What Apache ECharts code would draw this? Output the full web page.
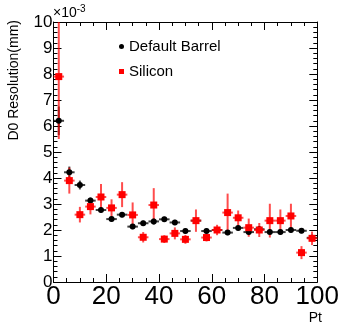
<!DOCTYPE html>
<html>
<head>
<meta charset="utf-8">
<script src="https://cdn.jsdelivr.net/npm/echarts@6/dist/echarts.min.js"></script>
<style>
html,body{margin:0;padding:0;background:#fff;}
#c{width:342px;height:325px;}
</style>
</head>
<body>
<div id="c"></div>
<script>
// Bin centres (Pt)
var ptBins = [2, 6, 10, 14, 18, 22, 26, 30, 34, 38, 42, 46, 50, 54, 58, 62, 66, 70, 74, 78, 82, 86, 90, 94, 98];
var binHalfWidth = 2;
// D0 resolution (x 10^-3 mm)
var barrelValues = [6.2, 4.22, 3.73, 3.13, 2.77, 2.42, 2.59, 2.13, 2.26, 2.33, 2.41, 2.29, 1.96, 2.36, 1.96, 2.0, 1.9, 2.08, 1.92, 2.03, 1.92, 1.92, 2.0, 1.97, 1.7];
var barrelErrors = [0.55, 0.22, 0.17, 0.12, 0.1, 0.1, 0.1, 0.1, 0.1, 0.12, 0.1, 0.1, 0.1, 0.1, 0.1, 0.1, 0.1, 0.1, 0.1, 0.1, 0.1, 0.1, 0.1, 0.1, 0.1];
var siliconValues = [7.9, 3.9, 2.59, 2.9, 3.27, 2.85, 3.36, 2.58, 1.72, 2.96, 1.65, 1.87, 1.64, 2.36, 1.71, 2.0, 2.67, 2.47, 2.09, 2.0, 2.36, 2.36, 2.54, 1.13, 1.68];
var siliconErrors = [2.4, 0.5, 0.3, 0.3, 0.5, 0.33, 0.48, 0.48, 0.2, 0.65, 0.15, 0.23, 0.17, 0.43, 0.15, 0.2, 0.73, 0.28, 0.35, 0.27, 0.65, 0.43, 0.47, 0.25, 0.26];
var xTickValues = [0, 20, 40, 60, 80, 100];
var yTickValues = [0, 1, 2, 3, 4, 5, 6, 7, 8, 9, 10];
var seriesNames = ['Default Barrel', 'Silicon'];
var xTitle = 'Pt';
var yTitle = 'D0 Resolution(mm)';

var X_MIN = xTickValues[0], X_MAX = xTickValues[xTickValues.length - 1];
var Y_MIN = yTickValues[0], Y_MAX = yTickValues[yTickValues.length - 1];
var FONT = 'Liberation Sans, Arial, Helvetica, sans-serif';

function rows(vals, errs) {
  return ptBins.map(function (x, i) { return [x, vals[i], errs[i]]; });
}

function errRender(color, opacity) {
  return function (params, api) {
    var x = api.value(0), y = api.value(1), e = api.value(2);
    var l = api.coord([Math.max(x - binHalfWidth, X_MIN), y]);
    var r = api.coord([Math.min(x + binHalfWidth, X_MAX), y]);
    var t = api.coord([x, Math.min(y + e, Y_MAX)]);
    var b = api.coord([x, Math.max(y - e, Y_MIN)]);
    return {
      type: 'group',
      children: [
        { type: 'line', shape: { x1: l[0], y1: l[1], x2: r[0], y2: r[1] },
          style: { stroke: color, lineWidth: 2, opacity: opacity } },
        { type: 'line', shape: { x1: t[0], y1: t[1], x2: b[0], y2: b[1] },
          style: { stroke: color, lineWidth: 2, opacity: opacity } }
      ]
    };
  };
}

var tickCommon = { show: true, inside: true, length: 8, lineStyle: { color: '#000', width: 1 } };
var minorCommon = { show: true, length: 4, lineStyle: { color: '#000', width: 1 } };
var lineCommon = { show: true, onZero: false, lineStyle: { color: '#000', width: 1 } };

var chart = echarts.init(document.getElementById('c'), null, { renderer: 'canvas' });
chart.setOption({
  animation: false,
  backgroundColor: '#fff',
  grid: { left: 53.5, right: 20.3, top: 22, bottom: 43, containLabel: false },
  xAxis: [
    { type: 'value', min: X_MIN, max: X_MAX, interval: 20, position: 'bottom',
      axisLine: lineCommon, axisTick: tickCommon,
      minorTick: Object.assign({ splitNumber: 4 }, minorCommon),
      splitLine: { show: false },
      axisLabel: { show: true, margin: 2, fontSize: 26, color: '#000', fontFamily: FONT,
        customValues: xTickValues } },
    { type: 'value', min: X_MIN, max: X_MAX, interval: 20, position: 'top',
      axisLine: lineCommon, axisTick: tickCommon,
      minorTick: Object.assign({ splitNumber: 4 }, minorCommon),
      splitLine: { show: false }, axisLabel: { show: false } }
  ],
  yAxis: [
    { type: 'value', min: Y_MIN, max: Y_MAX, interval: 1, position: 'left',
      axisLine: lineCommon, axisTick: tickCommon,
      minorTick: Object.assign({ splitNumber: 5 }, minorCommon),
      splitLine: { show: false },
      axisLabel: { show: true, margin: 1, fontSize: 17, color: '#000', fontFamily: FONT } },
    { type: 'value', min: Y_MIN, max: Y_MAX, interval: 1, position: 'right',
      axisLine: lineCommon, axisTick: tickCommon,
      minorTick: Object.assign({ splitNumber: 5 }, minorCommon),
      splitLine: { show: false }, axisLabel: { show: false } }
  ],
  legend: {
    orient: 'vertical', left: 114, top: 34, itemGap: 10,
    itemWidth: 5, itemHeight: 5,
    textStyle: { fontSize: 15, color: '#000', fontFamily: FONT, lineHeight: 15 },
    data: [
      { name: seriesNames[0], icon: 'circle', itemStyle: { color: '#000' } },
      { name: seriesNames[1], icon: 'rect', itemStyle: { color: '#ff0000' } }
    ]
  },
  series: [
    { type: 'custom', name: 'barrelErr', clip: true, renderItem: errRender('#000', 0.75),
      data: rows(barrelValues, barrelErrors), silent: true },
    { type: 'scatter', name: seriesNames[0], symbol: 'circle', symbolSize: 6,
      itemStyle: { color: '#000', opacity: 1 },
      data: rows(barrelValues, barrelErrors) },
    { type: 'custom', name: 'siliconErr', clip: true, renderItem: errRender('#ff0000', 0.7),
      data: rows(siliconValues, siliconErrors), silent: true },
    { type: 'scatter', name: seriesNames[1], symbol: 'rect', symbolSize: 7,
      itemStyle: { color: '#ff0000', opacity: 1 },
      data: rows(siliconValues, siliconErrors) }
  ],
  graphic: [
    { type: 'text', x: 14, y: 20, rotation: Math.PI / 2,
      style: { text: yTitle, fontSize: 14, fill: '#000', fontFamily: FONT,
        align: 'right', verticalAlign: 'middle' } },
    { type: 'text', x: 322, y: 318,
      style: { text: xTitle, fontSize: 14, fill: '#000', fontFamily: FONT,
        align: 'right', verticalAlign: 'middle' } },
    { type: 'text', x: 53, y: 13,
      style: { text: '{a|\u00d710}{b|-3}', fill: '#000', fontFamily: FONT,
        align: 'left', verticalAlign: 'middle',
        rich: { a: { fontSize: 14, fontFamily: FONT, fill: '#000' },
                b: { fontSize: 10, fontFamily: FONT, fill: '#000', verticalAlign: 'top', padding: [0, 0, 8, 0] } } } }
  ]
});
</script>
</body>
</html>
